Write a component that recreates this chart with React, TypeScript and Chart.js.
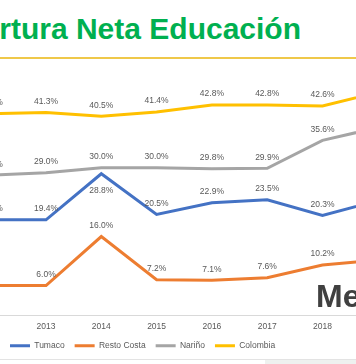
import React, { useEffect, useRef } from 'react';
import { Chart, registerables } from 'chart.js';

Chart.register(...registerables);

const years = ['2012', '2013', '2014', '2015', '2016', '2017', '2018', '2019'];
const tumaco = [19.4, 19.4, 28.8, 20.5, 22.9, 23.5, 20.3, 23.3];
const restoCosta = [6.0, 6.0, 16.0, 7.2, 7.1, 7.6, 10.2, 11.2];
const narino = [28.5, 29.0, 30.0, 30.0, 29.8, 29.9, 35.6, 38.2];
const colombia = [41.0, 41.3, 40.5, 41.4, 42.8, 42.8, 42.6, 45.4];
const tickYears = [2013, 2014, 2015, 2016, 2017, 2018];
const seriesNames = ['Tumaco', 'Resto Costa', 'Nariño', 'Colombia'];
const seriesValues = [tumaco, restoCosta, narino, colombia];
const seriesColors = ['#4472C4', '#ED7D31', '#A5A5A5', '#FFC000'];

const FONT = "'Liberation Sans', Arial, sans-serif";

const labelPlugin = {
  id: 'pointLabels',
  afterDatasetsDraw(chart: any) {
    const ctx = chart.ctx;
    ctx.save();
    ctx.font = `8.5px ${FONT}`;
    ctx.fillStyle = '#595959';
    ctx.textAlign = 'center';
    ctx.textBaseline = 'middle';
    chart.data.datasets.forEach((ds: any, di: number) => {
      const meta = chart.getDatasetMeta(di);
      meta.data.forEach((el: any, i: number) => {
        const v = ds.data[i].y as number;
        const below = di === 0 && i === 2;
        ctx.fillText(`${v.toFixed(1)}%`, el.x, el.y + (below ? 16.5 : -11));
      });
    });
    ctx.restore();
  },
};

export default function App() {
  const ref = useRef<HTMLCanvasElement | null>(null);

  useEffect(() => {
    if (!ref.current) return;
    const chart = new Chart(ref.current, {
      type: 'line',
      data: {
        datasets: seriesNames.map((name, si) => ({
          label: name,
          data: years.map((y, i) => ({ x: Number(y), y: seriesValues[si][i] })),
          borderColor: seriesColors[si],
          backgroundColor: seriesColors[si],
          borderWidth: 3,
          pointRadius: 0,
          tension: 0,
        })),
      },
      options: {
        animation: false,
        responsive: false,
        maintainAspectRatio: false,
        layout: { padding: { top: 69.7, bottom: 3.9, left: 0, right: 0 } },
        scales: {
          x: {
            type: 'linear',
            min: 2012.168,
            max: 2018.606,
            grid: { display: false, drawTicks: false },
            border: { display: true, color: '#D9D9D9', width: 1 },
            afterBuildTicks: (s: any) => {
              s.ticks = tickYears.map((v) => ({ value: v }));
            },
            afterFit: (s: any) => {
              s.height = 16.55;
            },
            ticks: {
              padding: 6.7,
              color: '#595959',
              font: { family: FONT, size: 8.5 },
              callback: (v: any) => String(v),
              autoSkip: false,
              maxRotation: 0,
            },
          },
          y: { display: false, min: 0, max: 50 },
        },
        plugins: {
          legend: {
            position: 'bottom',
            align: 'start',
            labels: {
              boxWidth: 20,
              boxHeight: 3,
              padding: 10,
              color: '#595959',
              font: { family: FONT, size: 8.5 },
              generateLabels: () =>
                seriesNames.map((n, i) => ({
                  text: n,
                  fillStyle: seriesColors[i],
                  strokeStyle: seriesColors[i],
                  lineWidth: 0,
                  hidden: false,
                  datasetIndex: i,
                  fontColor: '#595959',
                })),
            },
          },
          tooltip: { enabled: false },
        },
      } as any,
      plugins: [labelPlugin],
    });
    return () => chart.destroy();
  }, []);

  return (
    <div
      style={{
        position: 'fixed',
        left: 0,
        top: 0,
        width: 356,
        height: 364,
        overflow: 'hidden',
        background: '#FFFFFF',
      }}
    >
      <span
        style={{
          position: 'absolute',
          right: 55,
          top: 13.5,
          whiteSpace: 'nowrap',
          fontFamily: FONT,
          fontWeight: 'bold',
          fontSize: 30,
          lineHeight: 1,
          color: '#00B050',
        }}
      >
        Cobertura Neta Educación
      </span>
      <div
        style={{
          position: 'absolute',
          left: 0,
          top: 56.5,
          width: 356,
          height: 2,
          background: '#EFC84A',
        }}
      />
      <canvas
        ref={ref}
        width={356}
        height={364}
        style={{ position: 'absolute', left: 0, top: 0, width: 356, height: 364 }}
      />
      <span
        style={{
          position: 'absolute',
          left: 316,
          top: 280,
          whiteSpace: 'nowrap',
          fontFamily: FONT,
          fontWeight: 'bold',
          fontSize: 32,
          lineHeight: 1,
          color: '#404040',
        }}
      >
        Media
      </span>
      <div
        style={{
          position: 'absolute',
          left: 0,
          top: 359,
          width: 356,
          height: 1,
          background: '#E3E3E3',
        }}
      />
      <div
        style={{
          position: 'absolute',
          left: 265,
          top: 360,
          width: 91,
          height: 4,
          background: '#EEF1EF',
        }}
      />
    </div>
  );
}
